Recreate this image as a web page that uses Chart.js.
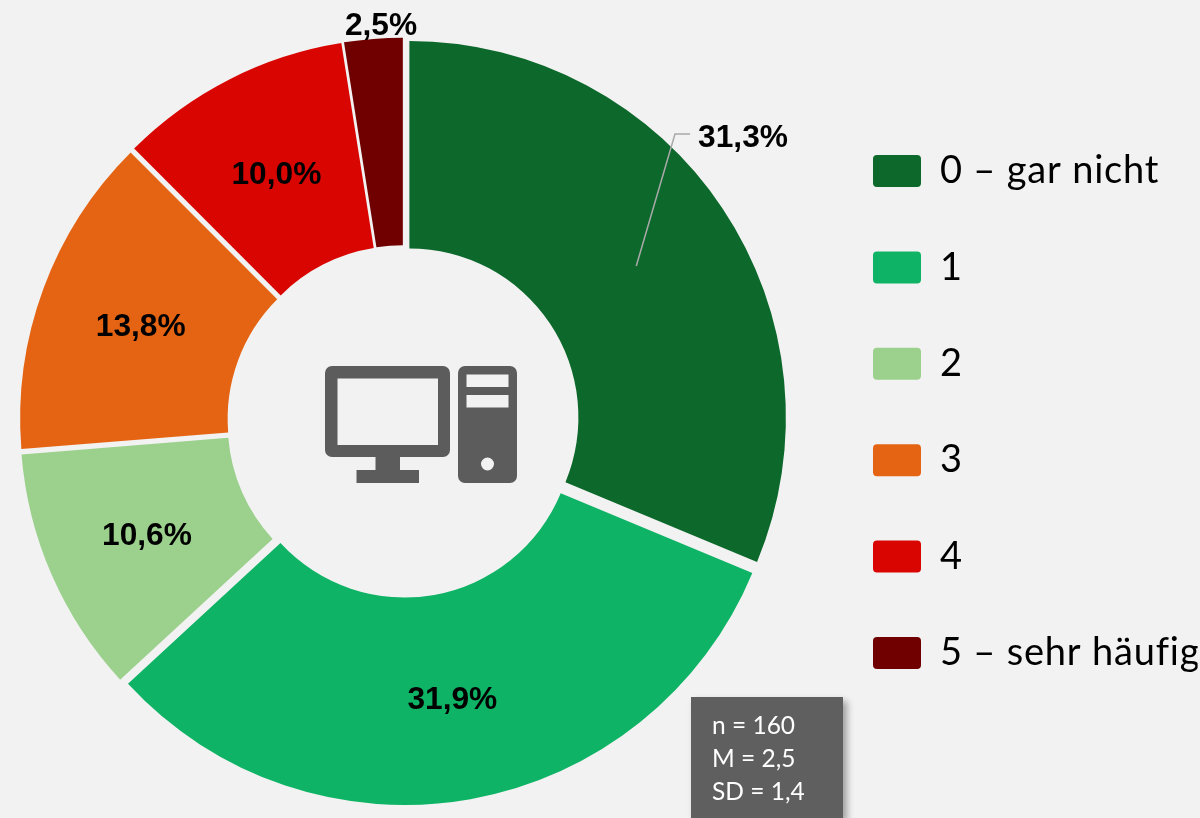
<!DOCTYPE html>
<html lang="de"><head><meta charset="utf-8">
<script src="https://cdn.jsdelivr.net/npm/chart.js@4"></script>
<style>
html,body{margin:0;padding:0;background:#F2F2F2;overflow:hidden}
#wrap{position:relative;width:1200px;height:818px;background:#F2F2F2}
canvas{position:absolute;left:0;top:0}
#icon{position:absolute;left:0;top:0}
#stats{position:absolute;left:691px;top:697px;width:152px;height:121px;background:#5F5F5F;box-shadow:4px 4px 7px rgba(0,0,0,.35);color:#fff;font:24.5px/33px Lato,sans-serif;box-sizing:border-box;padding:11px 0 0 21px}
</style></head><body>
<div id="wrap">
<canvas id="c" width="1200" height="818"></canvas>
<svg id="icon" width="1200" height="818" fill="#5C5C5C">
<path fill-rule="evenodd" d="M332 366H443a7 7 0 0 1 7 7V450a7 7 0 0 1-7 7H400V470H419V483H356.5V470H375.5V457H332a7 7 0 0 1-7-7V373a7 7 0 0 1 7-7ZM337.5 378.5V445H438V378.5Z"/>
<path fill-rule="evenodd" d="M465 366H510a7 7 0 0 1 7 7V476a7 7 0 0 1-7 7H465a7 7 0 0 1-7-7V373a7 7 0 0 1 7-7ZM466.500 374.500V387H508.500V374.500ZM466.500 395V407.500H508.500V395ZM494 464a6.500 6.500 0 1 0-13 0a6.500 6.500 0 1 0 13 0Z"/>
</svg>
<div id="stats">n = 160<br>M = 2,5<br>SD = 1,4</div>
</div>
<script>
const categories = ["0 – gar nicht", "1", "2", "3", "4", "5 – sehr häufig"];
const values = [31.3, 31.9, 10.6, 13.8, 10.0, 2.5];
const sliceColors = ["#0C682B", "#0EB365", "#9CD18D", "#E56413", "#D90500", "#700000"];
const bg = "#F2F2F2";

const labelPlugin = {
  id: "sliceLabels",
  afterLayout(chart) {
    const l = chart.legend;
    const w = l.width, h = l.height;
    l.left = 814.6; l.right = l.left + w;
    l.top = 93.6; l.bottom = l.top + h;
  },
  afterDatasetsUpdate(chart, args, opts) {
    chart.getDatasetMeta(0).data.forEach(arc => {
      const mid = (arc.startAngle + arc.endAngle) / 2;
      arc.x += Math.cos(mid) * opts.explode;
      arc.y += Math.sin(mid) * opts.explode;
    });
  },
  beforeDraw(chart) { chart.ctx.letterSpacing = "0.8px"; },
  afterDatasetsDraw(chart, args, opts) {
    const ctx = chart.ctx, arcs = chart.getDatasetMeta(0).data;
    ctx.save();
    ctx.letterSpacing = "0px";
    arcs.forEach((arc, i) => {
      const c = arc.getCenterPoint();
      const p = opts.outside[i];
      if (i === 0) {
        ctx.strokeStyle = "#A9A9A9"; ctx.lineWidth = 1.5;
        ctx.beginPath(); ctx.moveTo(c.x, c.y); ctx.lineTo(675, 134); ctx.lineTo(690, 134); ctx.stroke();
      }
      ctx.font = "bold 31.7px 'Liberation Sans', Arial, sans-serif";
      ctx.fillStyle = "#000"; ctx.textAlign = "center"; ctx.textBaseline = "middle";
      const txt = values[i].toFixed(1).replace(".", ",") + "%";
      ctx.fillText(txt, p ? p.x : c.x, p ? p.y + 1 : c.y + 3);
    });
    ctx.restore();
  }
};

new Chart(document.getElementById("c"), {
  type: "doughnut",
  data: { labels: categories, datasets: [{ data: values, backgroundColor: sliceColors, borderWidth: 0, hoverOffset: 0, radius: 376.5, clip: false }] },
  options: {
    responsive: false, animation: false, cutout: "44.89%",
    layout: { padding: { left: 20, right: 413.2, top: 40, bottom: 15.2 } },
    plugins: {
      tooltip: { enabled: false },
      sliceLabels: { explode: 7.2, outside: { 0: { x: 743, y: 137 }, 5: { x: 381, y: 25 } } },
      legend: {
        position: "chartArea", align: "start",
        labels: {
          boxWidth: 48, boxHeight: 32, padding: 58.4, color: "#000", useBorderRadius: true, borderRadius: 4,
          font: { family: "Lato", size: 38 },
          generateLabels(chart) {
            return Chart.overrides.doughnut.plugins.legend.labels.generateLabels(chart).map(x => ({ ...x, lineWidth: 0, strokeStyle: "transparent" }));
          }
        }
      }
    }
  },
  plugins: [labelPlugin]
});
</script>
</body></html>
